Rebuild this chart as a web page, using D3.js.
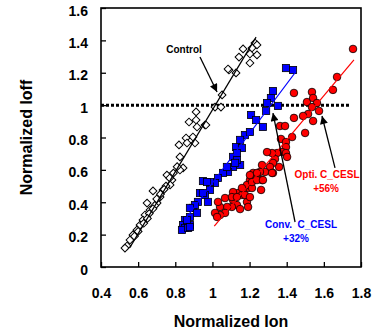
<!DOCTYPE html>
<html><head><meta charset="utf-8">
<script src="https://cdn.jsdelivr.net/npm/d3@7"></script>
<style>body{margin:0;background:#fff}svg{display:block}text{font-family:"Liberation Sans",Arial,sans-serif;font-weight:bold}</style>
</head><body><svg id="c" width="383" height="336"></svg>
<script>
const xTicks=[0.4,0.6,0.8,1,1.2,1.4,1.6,1.8];
const yTicks=[0,0.2,0.4,0.6,0.8,1,1.2,1.4,1.6];
const controlX=[1.229,1.240,1.213,1.165,1.202,1.240,1.143,1.202,1.127,1.089,1.084,1.052,1.014,1.046,0.960,0.912,0.874,0.912,0.917,0.965,0.895,0.858,0.820,0.863,0.906,0.825,0.842,0.825,0.755,0.782,0.772,0.680,0.734,0.718,0.702,0.648,0.664,0.637,0.626,0.610,0.594,0.572,0.556,0.540,0.529,0.66,0.69,0.72,0.75,0.70,0.63,0.60,0.58,0.77,0.79,0.81,0.74,0.68,0.65];
const controlY=[1.384,1.372,1.353,1.347,1.316,1.310,1.297,1.260,1.199,1.217,1.223,1.063,0.988,0.988,0.877,0.958,0.896,0.908,0.865,0.877,0.803,0.797,0.754,0.766,0.766,0.680,0.612,0.599,0.568,0.537,0.507,0.470,0.476,0.432,0.395,0.395,0.352,0.321,0.290,0.259,0.229,0.198,0.167,0.130,0.117,0.33,0.38,0.45,0.50,0.42,0.27,0.22,0.19,0.55,0.58,0.62,0.48,0.36,0.30];
const convX=[1.396,1.434,1.326,1.315,1.294,1.353,1.289,1.208,1.235,1.272,1.175,1.202,1.149,1.127,1.111,1.149,1.159,1.132,1.111,1.084,1.057,1.030,1.014,0.987,0.949,0.987,0.960,0.933,0.922,0.976,0.895,0.917,0.879,0.852,0.842,0.879,0.852,0.836,0.869,1.132,1.122,1.078,0.971,0.949,0.906,0.879,0.863,0.879];
const convY=[1.229,1.217,1.087,1.044,1.013,0.995,0.964,0.939,0.908,0.865,0.815,0.834,0.785,0.741,0.680,0.630,0.735,0.661,0.618,0.587,0.581,0.550,0.519,0.525,0.531,0.476,0.445,0.457,0.402,0.402,0.365,0.334,0.309,0.290,0.259,0.259,0.241,0.229,0.241,0.704,0.643,0.618,0.525,0.457,0.383,0.365,0.290,0.247];
const optiX=[1.757,1.671,1.649,1.536,1.439,1.509,1.542,1.563,1.536,1.574,1.515,1.488,1.439,1.542,1.499,1.364,1.391,1.429,1.369,1.396,1.396,1.375,1.396,1.348,1.402,1.337,1.321,1.294,1.359,1.326,1.310,1.267,1.283,1.256,1.326,1.219,1.240,1.202,1.267,1.262,1.192,1.165,1.138,1.159,1.111,1.111,1.186,1.192,1.132,1.105,1.079,1.068,1.149,1.041,1.041,1.014,1.025,1.030,1.068,1.105,1.132,1.175,1.202,1.186,1.213,1.159,1.213,1.240,1.240,1.272,1.321,1.202];
const optiY=[1.347,1.174,1.094,1.081,1.075,1.019,1.044,1.013,0.988,0.964,0.945,0.933,0.921,0.902,0.828,0.871,0.871,0.803,0.791,0.772,0.741,0.710,0.704,0.704,0.680,0.667,0.704,0.710,0.618,0.643,0.618,0.630,0.587,0.587,0.581,0.581,0.550,0.537,0.537,0.476,0.488,0.476,0.457,0.445,0.463,0.414,0.402,0.371,0.383,0.371,0.371,0.334,0.358,0.371,0.321,0.334,0.309,0.402,0.426,0.432,0.432,0.445,0.432,0.507,0.488,0.488,0.525,0.537,0.581,0.537,0.581,0.568];
const controlFit=[[0.555,0.12],[1.235,1.42]];
const convFit=[[0.85,0.29],[1.445,1.20]];
const optiFit=[[1.010,0.253],[1.762,1.279]];
const refLevel=1, refXEnd=1.74;
const labels=[
 {t:"Control",x:0.847,y:1.324,c:"#000"},
 {t:"Conv.  C_CESL",x:1.477,y:0.241,c:"#0000ff"},
 {t:"+32%",x:1.450,y:0.154,c:"#0000ff"},
 {t:"Opti. C_CESL",x:1.617,y:0.550,c:"#ff0000"},
 {t:"+56%",x:1.612,y:0.463,c:"#ff0000"}];
const arrows=[
 {x1:0.933,y1:1.297,x2:1.025,y2:1.081},
 {x1:1.445,y1:0.278,x2:1.326,y2:0.951},
 {x1:1.660,y1:0.612,x2:1.590,y2:0.933}];

const svg=d3.select("#c");
const L=101,R=361,T=8,B=267;
const x=d3.scaleLinear().domain([0.4,1.8]).range([L,R]);
const y=d3.scaleLinear().domain([0,1.6]).range([B,T]);

svg.append("defs").append("marker").attr("id","ah").attr("viewBox","0 0 10 10")
 .attr("refX",10).attr("refY",5).attr("markerWidth",10).attr("markerHeight",8)
 .attr("markerUnits","userSpaceOnUse").attr("orient","auto")
 .append("path").attr("d","M0,0L10,5L0,10Z").attr("fill","#000");

// axes
const ax=svg.append("g").attr("transform",`translate(${L},0)`)
 .call(d3.axisLeft(y).tickValues(yTicks).tickSize(-5).tickPadding(13).tickFormat(d3.format("")));
const bx=svg.append("g").attr("transform",`translate(0,${B})`)
 .call(d3.axisBottom(x).tickValues(xTicks).tickSize(-5).tickPadding(21).tickFormat(d3.format("")));
[ax,bx].forEach(g=>{g.select(".domain").remove();g.selectAll("line").attr("stroke","#000").attr("stroke-width",1.3);
 g.selectAll("text").attr("font-size",14).attr("fill","#000");});
ax.selectAll("text").attr("dy","0.5em");

svg.append("rect").attr("x",L).attr("y",T).attr("width",R-L).attr("height",B-T)
 .attr("fill","none").attr("stroke","#000").attr("stroke-width",1.6);

// ref line
svg.append("line").attr("x1",x(0.4)).attr("x2",x(refXEnd)).attr("y1",y(refLevel)).attr("y2",y(refLevel))
 .attr("stroke","#000").attr("stroke-width",3).attr("stroke-dasharray","3,2");

const line=d3.line().x(d=>x(d[0])).y(d=>y(d[1]));

// control
const dia=d3.symbol(d3.symbolSquare,30)();
svg.append("g").selectAll("path").data(controlX.map((v,i)=>[v,controlY[i]])).join("path")
 .attr("d",dia).attr("transform",d=>`translate(${x(d[0])},${y(d[1])}) rotate(45)`)
 .attr("fill","#fff").attr("stroke","#000").attr("stroke-width",1);
svg.append("path").attr("d",line(controlFit)).attr("stroke","#000").attr("stroke-width",1.2).attr("fill","none");

// conv
svg.append("g").selectAll("rect").data(convX.map((v,i)=>[v,convY[i]])).join("rect")
 .attr("x",d=>x(d[0])-3.6).attr("y",d=>y(d[1])-3.6).attr("width",7.2).attr("height",7.2)
 .attr("fill","#0000ff").attr("stroke","#000").attr("stroke-width",0.8);
svg.append("path").attr("d",line(convFit)).attr("stroke","#0000ff").attr("stroke-width",1.2).attr("fill","none");

// opti
svg.append("g").selectAll("circle").data(optiX.map((v,i)=>[v,optiY[i]])).join("circle")
 .attr("cx",d=>x(d[0])).attr("cy",d=>y(d[1])).attr("r",3.8)
 .attr("fill","#ff0000").attr("stroke","#000").attr("stroke-width",0.8);
svg.append("path").attr("d",line(optiFit)).attr("stroke","#ff0000").attr("stroke-width",1.2).attr("fill","none");

// arrows
svg.append("g").selectAll("line").data(arrows).join("line")
 .attr("x1",d=>x(d.x1)).attr("y1",d=>y(d.y1)).attr("x2",d=>x(d.x2)).attr("y2",d=>y(d.y2))
 .attr("stroke","#000").attr("stroke-width",1.3).attr("marker-end","url(#ah)");

svg.append("g").selectAll("text").data(labels).join("text")
 .attr("x",d=>x(d.x)).attr("y",d=>y(d.y)).attr("text-anchor","middle")
 .attr("font-size",10).attr("fill",d=>d.c).style("white-space","pre").text(d=>d.t);

// titles
svg.append("text").attr("x",(L+R)/2).attr("y",327).attr("text-anchor","middle").attr("font-size",16).text("Normalized Ion");
svg.append("text").attr("transform",`translate(32,${(T+B)/2}) rotate(-90)`).attr("text-anchor","middle").attr("font-size",16).text("Normalized Ioff");
</script></body></html>
